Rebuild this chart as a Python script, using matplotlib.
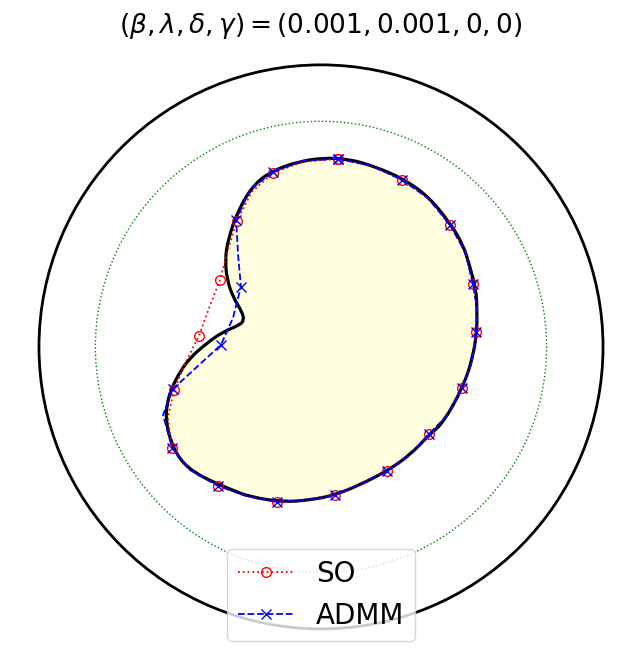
import matplotlib
matplotlib.use("Agg")
import matplotlib.pyplot as plt
from matplotlib.path import Path
from matplotlib.patches import PathPatch, Circle

# outer domain and inner (green) circle radii
outer_radius = 1.0
inner_radius = 0.8

# reference shape boundary (closed, clockwise from the top)
shape_x = [0.004, 0.096, 0.195, 0.291, 0.379, 0.457, 0.504, 0.528, 0.550, 0.553,
           0.553, 0.539, 0.504, 0.433, 0.383, 0.316, 0.234, 0.138, 0.050, -0.039,
           -0.135, -0.252, -0.316, -0.376, -0.447, -0.500, -0.535, -0.550, -0.546, -0.528,
           -0.500, -0.465, -0.404, -0.348, -0.287, -0.273, -0.280, -0.312, -0.333, -0.340,
           -0.330, -0.294, -0.234, -0.163, -0.082]
shape_y = [0.670, 0.667, 0.638, 0.596, 0.535, 0.440, 0.362, 0.284, 0.202, 0.131,
           0.060, -0.035, -0.142, -0.270, -0.312, -0.383, -0.440, -0.489, -0.525, -0.543,
           -0.550, -0.532, -0.507, -0.482, -0.447, -0.401, -0.330, -0.259, -0.199, -0.142,
           -0.089, -0.039, 0.014, 0.053, 0.078, 0.096, 0.124, 0.177, 0.238, 0.309,
           0.379, 0.486, 0.582, 0.628, 0.656]

# SO reconstruction (markers on every 2nd point)
so_x = [0.060, 0.181, 0.287, 0.379, 0.457, 0.511, 0.539, 0.553, 0.550, 0.535,
        0.500, 0.450, 0.383, 0.316, 0.234, 0.145, 0.050, -0.053, -0.156, -0.266,
        -0.365, -0.465, -0.528, -0.543, -0.521, -0.479, -0.433, -0.397, -0.358, -0.330,
        -0.298, -0.245, -0.170, -0.064, 0.060]
so_y = [0.667, 0.640, 0.592, 0.528, 0.433, 0.337, 0.223, 0.138, 0.053, -0.053,
        -0.145, -0.241, -0.309, -0.383, -0.440, -0.486, -0.525, -0.543, -0.550, -0.528,
        -0.493, -0.436, -0.358, -0.252, -0.152, -0.053, 0.039, 0.138, 0.238, 0.344,
        0.447, 0.550, 0.617, 0.656, 0.667]

# ADMM reconstruction (markers on every 2nd point)
admm_x = [0.060, 0.181, 0.287, 0.379, 0.457, 0.511, 0.539, 0.553, 0.550, 0.535,
          0.500, 0.450, 0.383, 0.316, 0.234, 0.145, 0.050, -0.053, -0.156, -0.266,
          -0.365, -0.465, -0.528, -0.560, -0.525, -0.440, -0.355, -0.312, -0.284, -0.294,
          -0.301, -0.252, -0.170, -0.064, 0.060]
admm_y = [0.667, 0.642, 0.592, 0.528, 0.433, 0.337, 0.223, 0.138, 0.053, -0.053,
          -0.145, -0.241, -0.309, -0.383, -0.440, -0.486, -0.525, -0.543, -0.550, -0.528,
          -0.493, -0.436, -0.358, -0.241, -0.149, -0.071, 0.007, 0.103, 0.213, 0.326,
          0.450, 0.557, 0.621, 0.660, 0.667]


def smooth_closed_path(xs, ys):
    # quadratic bezier through midpoints, using the points as control points
    n = len(xs)
    mids = [((xs[i] + xs[(i + 1) % n]) / 2, (ys[i] + ys[(i + 1) % n]) / 2) for i in range(n)]
    verts = [mids[-1]]
    codes = [Path.MOVETO]
    for i in range(n):
        verts += [(xs[i], ys[i]), mids[i]]
        codes += [Path.CURVE3, Path.CURVE3]
    return Path(verts, codes)


fig = plt.figure(figsize=(6.42, 6.67), dpi=100)
ax = fig.add_axes([0, 0, 1, 1])

ax.add_patch(Circle((0, 0), outer_radius, fill=False, color="black", lw=2.0))
ax.add_patch(Circle((0, 0), inner_radius, fill=False, color="green", lw=1.0, ls=":"))

shape_path = smooth_closed_path(shape_x, shape_y)
ax.add_patch(PathPatch(shape_path, facecolor="lightyellow", edgecolor="none"))
ax.add_patch(PathPatch(shape_path, facecolor="none", edgecolor="black", lw=2.3))

ax.plot(so_x, so_y, color="red", ls=":", lw=1.3, marker="o", ms=7,
        mfc="none", mew=1.0, markevery=2, label="SO")
ax.plot(admm_x, admm_y, color="blue", ls="--", lw=1.3, marker="x", ms=7,
        mew=1.0, markevery=2, label="ADMM")

ax.set_xlim(-1.138, 1.138)
ax.set_ylim(-1.135, 1.230)
ax.set_aspect("equal")
ax.axis("off")

ax.text(0.5, 1 - 33 / 667, r"$(\beta, \lambda, \delta, \gamma) = (0.001, 0.001, 0, 0)$",
        transform=ax.transAxes, ha="center", va="baseline", fontsize=19)

ax.legend(loc="lower center", bbox_to_anchor=(0.5, 26 / 667), fontsize=20,
          borderaxespad=0)

plt.savefig("out.png", dpi=100)
plt.close()
